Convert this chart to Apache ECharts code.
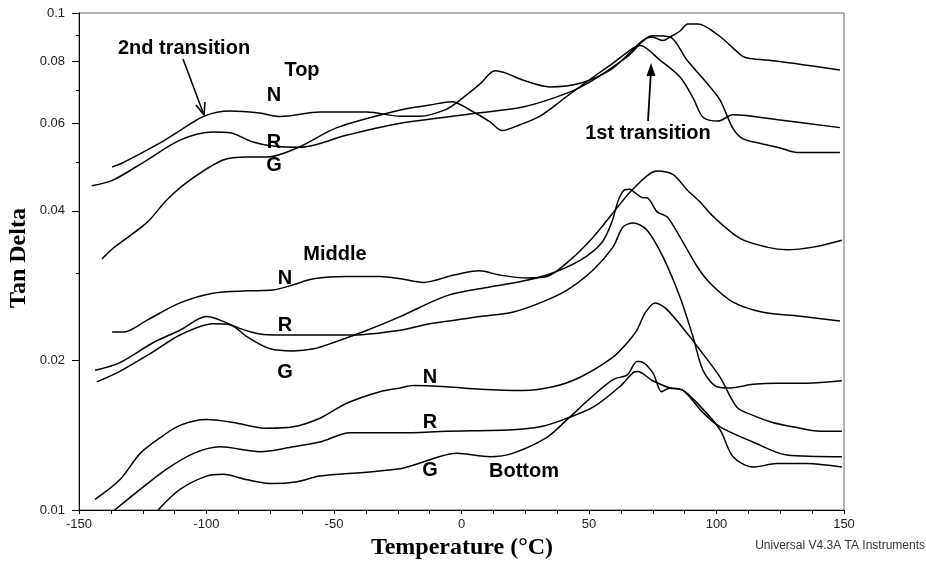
<!DOCTYPE html>
<html>
<head>
<meta charset="utf-8">
<title>Tan Delta vs Temperature</title>
<script src="https://cdn.jsdelivr.net/npm/echarts@6.0.0/dist/echarts.min.js"></script>
<style>
  html, body { margin: 0; padding: 0; background: #fff; }
  #main { width: 926px; height: 565px; }
</style>
</head>
<body>
<div id="main"></div>
<script>
// x ticks / y tick labels
var xTicks = [-150, -100, -50, 0, 50, 100, 150];
var yLabelValues = [0.01, 0.02, 0.04, 0.06, 0.08, 0.1];
var yMinorValues = [0.03, 0.05, 0.07, 0.09];

// [temperature °C, tan delta]
var topN = [[-137, 0.049], [-132.7, 0.050], [-118.2, 0.0548], [-110.4, 0.058], [-101, 0.062], [-90.8, 0.0635],
  [-80, 0.063], [-71, 0.0619], [-55.5, 0.0632], [-37, 0.0632], [-24, 0.062], [-16.3, 0.062], [-6, 0.064],
  [-0.6, 0.0668], [7.3, 0.072], [13.1, 0.0765], [18, 0.0755], [24, 0.0733], [34.7, 0.071], [46.5, 0.0722],
  [59.4, 0.0775], [71, 0.088], [74.7, 0.0895], [79, 0.088], [81.8, 0.0895], [85.7, 0.092], [88.8, 0.095],
  [92.7, 0.095], [101, 0.090], [110, 0.082], [113, 0.081], [124, 0.080], [148.4, 0.0768]];
var topR = [[-145, 0.0449], [-136.7, 0.0461], [-123.3, 0.0506], [-110.4, 0.0555], [-97.5, 0.0576], [-90.8, 0.0574],
  [-81.8, 0.055], [-74, 0.054], [-63.3, 0.0537], [-44.9, 0.0568], [-24, 0.060], [7.3, 0.063], [24.1, 0.0647],
  [41.4, 0.069], [51.6, 0.0733], [64.9, 0.0816], [75, 0.090], [81.8, 0.0895], [88.4, 0.0804], [96.3, 0.0722],
  [101.4, 0.0668], [106.5, 0.0585], [110.4, 0.0558], [117, 0.0547], [125, 0.0535], [131.6, 0.0524], [148.4, 0.0524]];
var topG = [[-141, 0.032], [-137, 0.0335], [-123.3, 0.0379], [-115.5, 0.0421], [-106.5, 0.0461], [-93.5, 0.0506],
  [-84, 0.0513], [-76.3, 0.0513], [-64.5, 0.0535], [-48.8, 0.0588], [-24, 0.0638], [-12.4, 0.0653], [-3.7, 0.0663],
  [3.3, 0.0638], [11.2, 0.0604], [15.9, 0.058], [23, 0.0596], [30.8, 0.062], [41.4, 0.068], [49.2, 0.0728],
  [59.4, 0.0793], [67.3, 0.085], [70, 0.086], [77.8, 0.0804], [85.7, 0.0743], [90.8, 0.0675], [94.7, 0.0617],
  [100.6, 0.0606], [106.5, 0.0624], [124.9, 0.0609], [148.4, 0.0588]];

var midN = [[-137, 0.0228], [-132.7, 0.0228], [-123.3, 0.0241], [-110.4, 0.0261], [-97.5, 0.0273], [-84, 0.0276],
  [-74, 0.0277], [-66, 0.0284], [-58, 0.0292], [-45, 0.0295], [-32, 0.0295], [-24, 0.0292], [-15, 0.0287],
  [-3, 0.0297], [7, 0.0303], [15, 0.0297], [25.7, 0.0293], [33.5, 0.0295], [42.5, 0.0318], [51.6, 0.0354],
  [59.4, 0.0396], [67, 0.0441], [76.7, 0.0481], [83, 0.0473], [88.4, 0.0441], [93.5, 0.0417], [98.6, 0.039],
  [109.2, 0.0352], [119.8, 0.0338], [127.6, 0.0334], [137.8, 0.0338], [149.2, 0.0349]];
var midR = [[-143.7, 0.0191], [-134, 0.0198], [-121, 0.0217], [-110.4, 0.023], [-100, 0.0245], [-94.7, 0.0241],
  [-87, 0.0232], [-79, 0.0226], [-71, 0.0225], [-55.5, 0.0225], [-42.5, 0.0225], [-24, 0.023], [-12.4, 0.0237],
  [7.3, 0.0245], [20, 0.025], [30.8, 0.0261], [41.4, 0.0277], [51.6, 0.0304], [59.4, 0.0338], [63.3, 0.0371],
  [67.3, 0.0378], [72.7, 0.0366], [79, 0.0323], [85.7, 0.0268], [90.8, 0.0223], [94.7, 0.0191], [100.2, 0.0177],
  [105.3, 0.0176], [114.3, 0.0179], [123.7, 0.018], [135.5, 0.018], [149.2, 0.0182]];
var midG = [[-143, 0.0181], [-134, 0.019], [-121, 0.0208], [-110.4, 0.0225], [-97.5, 0.0237], [-90.8, 0.0236],
  [-84, 0.0223], [-75, 0.0211], [-66, 0.0209], [-58, 0.0211], [-50.4, 0.0217], [-37, 0.023], [-24, 0.0245],
  [-5.7, 0.027], [11, 0.0281], [23, 0.0288], [33.5, 0.0297], [46.5, 0.0318], [55, 0.0345], [59, 0.038],
  [61.5, 0.042], [64, 0.0441], [66, 0.0442], [68, 0.0435], [71.2, 0.0425], [72.7, 0.0425], [76.7, 0.0398],
  [80.6, 0.0389], [85.7, 0.0354], [92.4, 0.0309], [97.5, 0.0286], [106.5, 0.0262], [118.2, 0.025],
  [133.9, 0.0245], [148.4, 0.024]];

var botN = [[-143.7, 0.0105], [-134, 0.0115], [-126, 0.013], [-118, 0.014], [-110.4, 0.0148], [-100, 0.0152],
  [-89.6, 0.015], [-76.3, 0.0146], [-66, 0.0147], [-55.5, 0.0153], [-45, 0.0164], [-32, 0.0173], [-24, 0.0176],
  [-19, 0.0178], [-5.7, 0.0177], [7.3, 0.0175], [24.1, 0.0174], [35.9, 0.0177], [46.5, 0.0185], [59.4, 0.0203],
  [66, 0.022], [68.8, 0.023], [72, 0.0249], [75.9, 0.0261], [80.6, 0.0253], [89.6, 0.0223], [93.5, 0.021],
  [101.4, 0.0185], [108, 0.0161], [114.3, 0.0155], [122, 0.015], [130, 0.0147], [140.6, 0.0144], [149.2, 0.0144]];
var botR = [[-136, 0.0100], [-126, 0.011], [-115.5, 0.0121], [-105, 0.013], [-94.7, 0.0134], [-79, 0.0131],
  [-66, 0.0134], [-55.5, 0.0137], [-43.7, 0.0143], [-24, 0.0143], [-5.7, 0.0144], [20, 0.0145], [30.8, 0.0147],
  [40, 0.0152], [51.6, 0.0161], [62, 0.0177], [67.3, 0.0189], [69, 0.019], [75, 0.0182], [81.8, 0.0176],
  [86.9, 0.0174], [94.7, 0.0157], [101.4, 0.0147], [114.3, 0.0137], [127.6, 0.0129], [149.2, 0.0128]];
var botG = [[-119, 0.0100], [-110.4, 0.011], [-100, 0.0117], [-93.5, 0.0118], [-84, 0.0115], [-74, 0.0113],
  [-64.5, 0.0114], [-55.5, 0.0117], [-38.6, 0.0119], [-24, 0.0121], [-19, 0.0123], [-1.8, 0.013], [11.2, 0.0128],
  [20, 0.013], [33.5, 0.014], [41.4, 0.0152], [50.6, 0.0168], [59.4, 0.0183], [65, 0.0187], [68.8, 0.0199],
  [70, 0.0199], [75, 0.0189], [78.5, 0.0173], [81.8, 0.0176], [86.9, 0.0174], [93.5, 0.0162], [101.4, 0.0145],
  [106.5, 0.0128], [114.3, 0.0122], [123.7, 0.0124], [135.5, 0.0124], [149.2, 0.0122]];

var curves = { topN: topN, topR: topR, topG: topG, midN: midN, midR: midR, midG: midG, botN: botN, botR: botR, botG: botG };

var chartDom = document.getElementById("main");
var myChart = echarts.init(chartDom, null, { renderer: "canvas" });
var option;

var sans = "Liberation Sans, Arial, sans-serif";
var serif = "Liberation Serif, Times New Roman, serif";

function lbl(text, x, y) {
  return {
    type: "text", x: x, y: y, z: 50,
    style: { text: text, fill: "#000", font: "bold 20px " + sans, align: "center", verticalAlign: "middle" }
  };
}

var series = Object.keys(curves).map(function (k) {
  return {
    name: k,
    type: "line",
    data: curves[k],
    xAxisIndex: 0,
    yAxisIndex: 0,
    showSymbol: false,
    smooth: 0.3,
    silent: true,
    lineStyle: { color: "#000", width: 1.5 }
  };
});

function fmtLog(v) {
  return String(parseFloat(Math.pow(10, v).toPrecision(2)));
}

option = {
  animation: false,
  backgroundColor: "#fff",
  grid: { left: 79, right: 82, top: 13, bottom: 55, show: true, borderColor: "#666", borderWidth: 1 },
  xAxis: {
    type: "value",
    min: xTicks[0],
    max: xTicks[xTicks.length - 1],
    interval: 50,
    axisLine: { show: true, onZero: false, lineStyle: { color: "#000", width: 1 } },
    axisTick: { show: true, length: 4, lineStyle: { color: "#000" } },
    minorTick: { show: true, splitNumber: 4, length: 4, lineStyle: { color: "#000" } },
    splitLine: { show: false },
    axisLabel: { margin: 8, color: "#222", fontSize: 13, fontFamily: sans }
  },
  yAxis: [
    {
      // the data axis (log scale)
      type: "log",
      logBase: 10,
      min: 0.01,
      max: 0.1,
      axisLine: { show: true, onZero: false, lineStyle: { color: "#000", width: 1 } },
      axisTick: { show: false },
      axisLabel: { show: false },
      splitLine: { show: false },
      minorTick: { show: false },
      minorSplitLine: { show: false }
    },
    {
      // labelled ticks, in log10 space so they sit on the same positions
      type: "value",
      min: -2,
      max: -1,
      position: "left",
      axisLine: { show: false, onZero: false },
      axisTick: { show: true, length: 7, lineStyle: { color: "#000" },
        customValues: yLabelValues.map(function (v) { return Math.log10(v); }) },
      axisLabel: { show: true, margin: 14, color: "#222", fontSize: 13, fontFamily: sans, formatter: fmtLog,
        customValues: yLabelValues.map(function (v) { return Math.log10(v); }) },
      splitLine: { show: false }
    },
    {
      type: "value",
      min: -2,
      max: -1,
      position: "left",
      axisLine: { show: false, onZero: false },
      axisTick: { show: true, length: 3, lineStyle: { color: "#000" },
        customValues: yMinorValues.map(function (v) { return Math.log10(v); }) },
      axisLabel: { show: false },
      splitLine: { show: false }
    }
  ],
  series: series,
  graphic: [
    { type: "text", x: 19, y: 258, rotation: Math.PI / 2, z: 50,
      style: { text: "Tan Delta", fill: "#000", font: "bold 24px " + serif, align: "center", verticalAlign: "middle" } },
    { type: "text", x: 462, y: 548, z: 50,
      style: { text: "Temperature (°C)", fill: "#000", font: "bold 24px " + serif, align: "center", verticalAlign: "middle" } },
    { type: "text", x: 925, y: 546, z: 50,
      style: { text: "Universal V4.3A TA Instruments", fill: "#333", font: "12px " + sans, align: "right", verticalAlign: "middle" } },

    lbl("2nd transition", 184, 48),
    lbl("Top", 302, 70),
    lbl("N", 274, 95),
    lbl("R", 274, 142),
    lbl("G", 274, 165),
    lbl("Middle", 335, 254),
    lbl("N", 285, 278),
    lbl("R", 285, 325),
    lbl("G", 285, 372),
    lbl("N", 430, 377),
    lbl("R", 430, 422),
    lbl("G", 430, 470),
    lbl("Bottom", 524, 471),
    lbl("1st transition", 648, 133),

    // 2nd transition arrow
    { type: "polyline", z: 50, shape: { points: [[183, 59], [204, 115]] }, style: { stroke: "#000", lineWidth: 1.6, fill: null } },
    { type: "polyline", z: 50, shape: { points: [[196, 105], [204, 115], [205, 102]] }, style: { stroke: "#000", lineWidth: 1.6, fill: null } },
    // 1st transition arrow
    { type: "polyline", z: 50, shape: { points: [[648, 121], [651, 70]] }, style: { stroke: "#000", lineWidth: 1.8, fill: null } },
    { type: "polygon", z: 50, shape: { points: [[651, 63], [646.5, 76], [655.5, 76]] }, style: { fill: "#000" } }
  ]
};

option && myChart.setOption(option);
</script>
</body>
</html>
